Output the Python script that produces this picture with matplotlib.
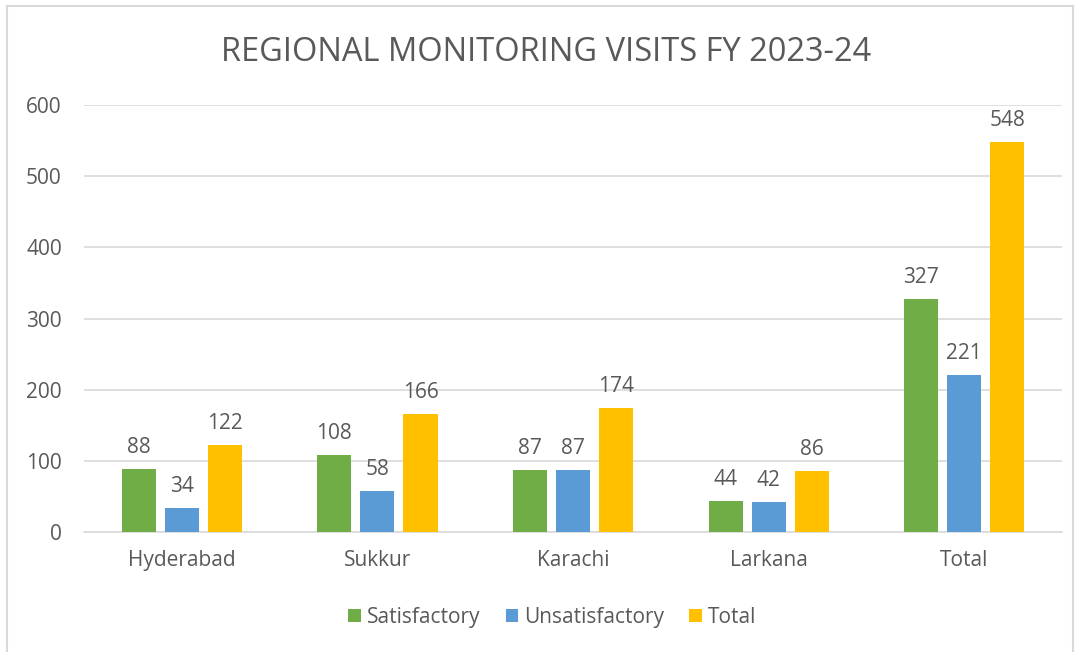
import matplotlib.pyplot as plt
import numpy as np
from matplotlib.lines import Line2D

regions = ['Hyderabad', 'Sukkur', 'Karachi', 'Larkana', 'Total']
satisfactory = [88, 108, 87, 44, 327]
unsatisfactory = [34, 58, 87, 42, 221]
total = [122, 166, 174, 86, 548]

series_names = ['Satisfactory', 'Unsatisfactory', 'Total']
colors = ['#70AD47', '#5B9BD5', '#FFC000']
txt = '#595959'

plt.rcParams['font.family'] = ['Open Sans', 'DejaVu Sans']

fig = plt.figure(figsize=(10.76, 6.52), dpi=100)
ax = fig.add_axes([0.0781, 0.184, 0.909, 0.655])

x = np.arange(len(regions))
w = 0.174
step = 0.22
for i, (vals, name, c) in enumerate(zip([satisfactory, unsatisfactory, total], series_names, colors)):
    bars = ax.bar(x + (i - 1) * step, vals, w, color=c, label=name, zorder=3)
    for b, v in zip(bars, vals):
        ax.annotate(str(v), (b.get_x() + b.get_width() / 2, v), xytext=(0, 8),
                    textcoords='offset points', ha='center', va='bottom',
                    fontsize=15, color=txt)

ax.set_xlim(-0.5, len(regions) - 0.5)
ax.set_ylim(0, 600)
ax.set_yticks(range(0, 601, 100))
ax.set_xticks(x)
ax.set_xticklabels(regions)
ax.grid(axis='y', color='#D9D9D9', linewidth=1.2, zorder=0)
for s in ['top', 'right', 'left']:
    ax.spines[s].set_visible(False)
ax.spines['bottom'].set_color('#D9D9D9')
ax.spines['bottom'].set_linewidth(1.2)
ax.tick_params(axis='both', length=0, labelsize=15, labelcolor=txt)
ax.tick_params(axis='y', pad=16)
ax.tick_params(axis='x', pad=13)

fig.text(0.508, 0.92, 'REGIONAL MONITORING VISITS FY 2023-24', ha='center', va='center',
         fontsize=23.5, color=txt)

ax.legend(loc='center', bbox_to_anchor=(0.479, -0.2), ncol=3, frameon=False,
          fontsize=15, labelcolor=txt, handlelength=0.6, handleheight=0.6,
          handletextpad=0.3, columnspacing=1.2)

# chart border
bc = '#D9D9D9'
fig.add_artist(Line2D([7 / 1076, 7 / 1076], [0, 1 - 6 / 652], color=bc, lw=1.5, transform=fig.transFigure))
fig.add_artist(Line2D([7 / 1076, 1073 / 1076], [1 - 6 / 652, 1 - 6 / 652], color=bc, lw=1.5, transform=fig.transFigure))
fig.add_artist(Line2D([1073 / 1076, 1073 / 1076], [0, 1 - 6 / 652], color=bc, lw=1.5, transform=fig.transFigure))

fig.savefig('out.png', dpi=100)
